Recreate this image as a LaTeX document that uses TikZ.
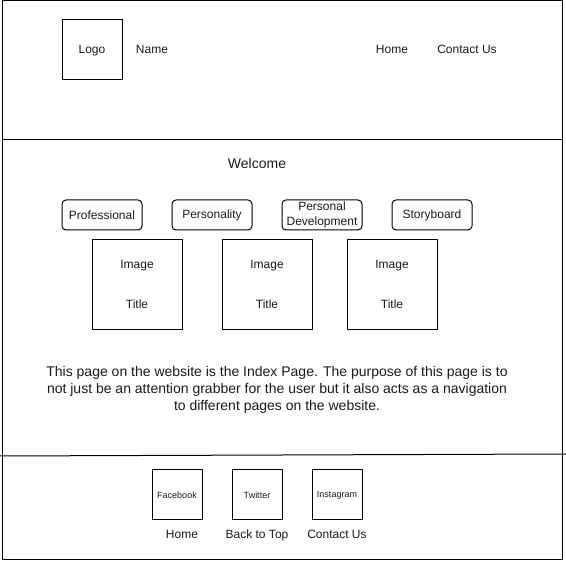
\documentclass[tikz,border=0pt]{standalone}
\usepackage{fontspec}
\setmainfont{Liberation Sans}
\usepackage{xcolor}
\definecolor{cLine}{HTML}{000000}
\definecolor{cText}{HTML}{1A1A1A}
\usepackage{tikz}
\usetikzlibrary{positioning,calc}
\tikzset{
  frame-line/.style={draw=cLine,line width=1pt},
  wire-box/.style={draw=cLine,line width=1pt,text=cText,align=center,
    font=\fontsize{12}{14}\selectfont,inner sep=0pt,outer sep=0pt},
  wire-btn/.style={wire-box,rounded corners=4pt,minimum width=80pt,minimum height=30pt},
  wire-img/.style={wire-box,minimum width=90pt,minimum height=90pt},
  wire-social/.style={wire-box,minimum width=50pt,minimum height=50pt,
    font=\fontsize{9}{11}\selectfont},
  wire-text/.style={text=cText,font=\fontsize{12}{14}\selectfont,inner sep=0pt,
    text height=8.6pt,text depth=2.4pt},
}

\begin{document}
\begin{tikzpicture}[x=1pt,y=-1pt,node distance=30pt]
  \useasboundingbox (0,0) rectangle (566,561);
  % page frame and sections
  \draw[frame-line] (2,1) rectangle (562,560);
  \draw[frame-line] (2,140) -- (562,140);
  \coordinate (foot-l) at (0,456);
  \coordinate (foot-r) at (566,454);
  \draw[frame-line] (foot-l) -- (foot-r);

  % header
  \node[wire-box,minimum width=60pt,minimum height=60pt] (logo) at (92,50) {};
  \node[wire-text] (logo-txt) at (logo) {Logo};
  \node[wire-text] (name) at (152,50) {Name};
  \node[wire-text] (home) at (392,50) {Home};
  \node[wire-text] (contact) at (467,50) {Contact Us};

  % body
  \node[wire-text,font=\fontsize{14}{16}\selectfont,text height=10pt,text depth=3pt]
    (welcome) at (257,165) {Welcome};
  \node[wire-btn] (prof) at (102,215) {Professional};
  \node[wire-btn] (pers) at (212,215) {Personality};
  \node[wire-btn,font=\fontsize{12}{15}\selectfont] (dev) at (322,215) {Personal\\Development};
  \node[wire-btn] (story) at (432,215) {Storyboard};

  \foreach \n/\x in {imgA/137,imgB/267,imgC/392}{
    \node[wire-img] (\n) at (\x,285) {};
    \node[wire-text] at ($(\n)+(0,-20)$) {Image};
    \node[wire-text] at ($(\n)+(0,20)$) {Title};
  }

  \node[text=cText,inner sep=0pt,align=center,font=\fontsize{14}{17}\selectfont]
    (desc) at (277,390)
    {This page on the website is the Index Page. The purpose of this page is to\\
     not just be an attention grabber for the user but it also acts as a navigation\\
     to different pages on the website.};

  % footer
  \node[wire-social] (fb) at (177,495) {Facebook};
  \node[wire-social] (tw) at (257,495) {Twitter};
  \node[wire-social] (ig) at (337,495) {Instagram};
  \node[wire-text] (f-home) at (182,535) {Home};
  \node[wire-text] (f-top) at (257,535) {Back to Top};
  \node[wire-text] (f-contact) at (337,535) {Contact Us};
\end{tikzpicture}
\end{document}
